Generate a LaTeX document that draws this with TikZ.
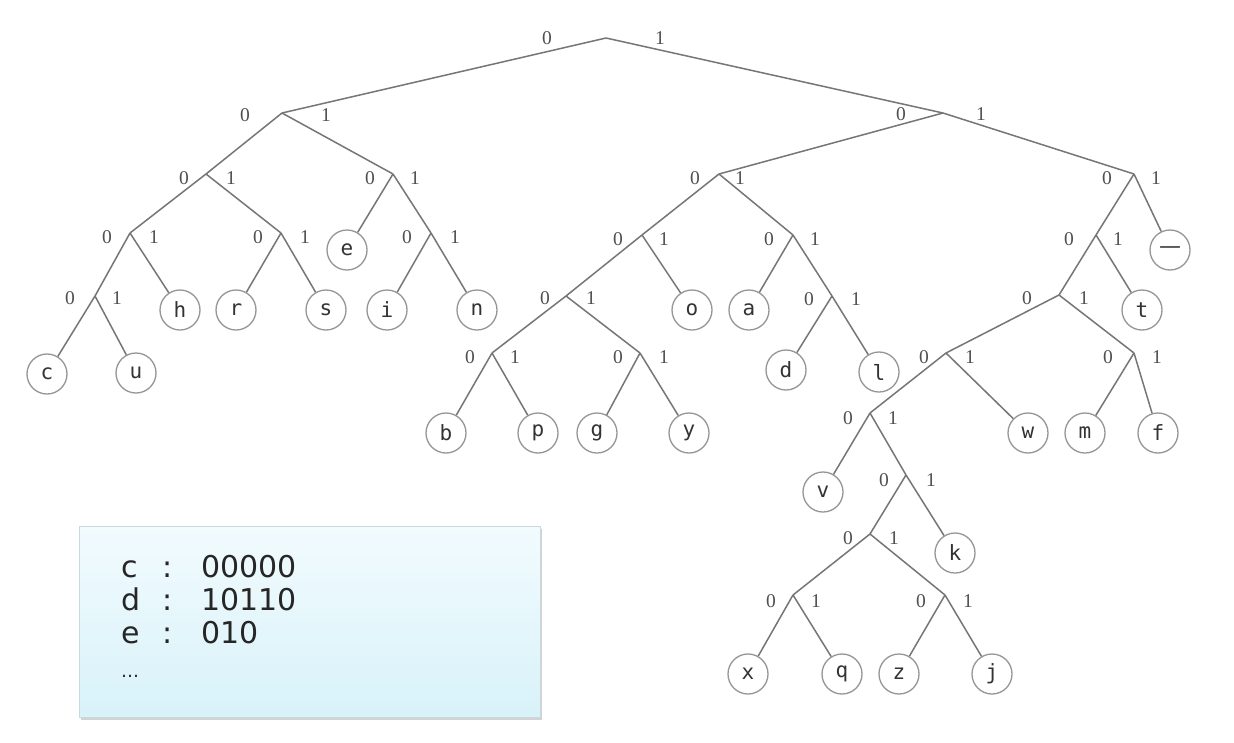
\documentclass[tikz,border=0pt]{standalone}
\usepackage{fontspec}
\usetikzlibrary{shadows}
\newfontfamily\leaffont{DejaVu Sans Mono}
\newfontfamily\bitfont{Liberation Serif}
\newfontfamily\codefont{DejaVu Sans}
\definecolor{edgegray}{HTML}{767676}
\definecolor{ringgray}{HTML}{969696}
\definecolor{inkgray}{HTML}{333333}
\definecolor{bitgray}{HTML}{505050}
\definecolor{boxtop}{HTML}{F2FBFE}
\definecolor{boxbot}{HTML}{D8F2F9}
\definecolor{boxline}{HTML}{C9D9DE}

% one internal node: edge 0 to the left child, edge 1 to the right child
\newcommand\fork[6]{%
  \draw[edge] (#1) -- (#2) node[bit, at start, xshift=-#4pt, yshift=-#6pt] {0};
  \draw[edge] (#1) -- (#3) node[bit, at start, xshift=#5pt, yshift=-#6pt] {1};
}

\begin{document}
\begin{tikzpicture}[x=1pt, y=-1pt,
  leaf/.style={circle, draw=ringgray, line width=1.3pt, fill=white,
    minimum size=40pt, inner sep=0pt, text=inkgray,
    font=\leaffont\fontsize{21}{21}\selectfont},
  edge/.style={draw=edgegray, line width=1.5pt},
  bit/.style={inner sep=0pt, text=bitgray, font=\bitfont\fontsize{19.5}{19.5}\selectfont},
  codebox/.style={draw=boxline, line width=0.8pt, top color=boxtop, bottom color=boxbot,
    minimum width=461pt, minimum height=191pt, inner sep=0pt,
    drop shadow={shadow xshift=1.5pt, shadow yshift=-3pt, opacity=0.35}},
  codetext/.style={anchor=base west, inner sep=0pt, text=black!85,
    font=\codefont\fontsize{30}{30}\selectfont}]

\useasboundingbox (0,0) rectangle (1234,742);
\fill[white] (0,0) rectangle (1234,742);

% ---- internal nodes ----
\coordinate (r)        at (606,38);
\coordinate (n0)       at (282,113);
\coordinate (n1)       at (943,113);
\coordinate (n00)      at (206,174);
\coordinate (n01)      at (393,174);
\coordinate (n000)     at (130,233);
\coordinate (n001)     at (281,233);
\coordinate (n011)     at (431,233);
\coordinate (n0000)    at (95,296);
\coordinate (n10)      at (719,174);
\coordinate (n11)      at (1134,174);
\coordinate (n100)     at (642,235);
\coordinate (n101)     at (793,235);
\coordinate (n1000)    at (566,296);
\coordinate (n1011)    at (832,296);
\coordinate (n10000)   at (492,353);
\coordinate (n10001)   at (640,353);
\coordinate (n110)     at (1096,235);
\coordinate (n1100)    at (1059,295);
\coordinate (n11000)   at (946,353);
\coordinate (n11001)   at (1134,353);
\coordinate (n110000)  at (870,413);
\coordinate (n1100001) at (906,475);
\coordinate (n11000010) at (870,534);
\coordinate (n110000100) at (793,595);
\coordinate (n110000101) at (945,595);

% ---- leaves ----
\node[leaf] (c) at (47,374) {c};
\node[leaf] (u) at (136,373) {u};
\node[leaf] (h) at (180,310) {h};
\node[leaf] (r1) at (236,310) {r};
\node[leaf] (s) at (326,310) {s};
\node[leaf] (e) at (347,250) {e};
\node[leaf] (i) at (387,310) {i};
\node[leaf] (n) at (477,310) {n};
\node[leaf] (o) at (692,310) {o};
\node[leaf] (a) at (749,310) {a};
\node[leaf] (d) at (786,370) {d};
\node[leaf] (l) at (879,372) {l};
\node[leaf] (b) at (446,433) {b};
\node[leaf] (p) at (538,433) {p};
\node[leaf] (g) at (597,433) {g};
\node[leaf] (y1) at (689,433) {y};
\node[leaf] (sp) at (1170,250) {\codefont\fontsize{22}{22}\selectfont —};
\node[leaf] (t) at (1142,310) {t};
\node[leaf] (w) at (1028,433) {w};
\node[leaf] (m) at (1085,433) {m};
\node[leaf] (f) at (1158,433) {f};
\node[leaf] (v) at (823,492) {v};
\node[leaf] (k) at (955,553) {k};
\node[leaf] (x1) at (748,674) {x};
\node[leaf] (q) at (842,674) {q};
\node[leaf] (z) at (899,674) {z};
\node[leaf] (j) at (992,674) {j};

% ---- branches ----
\fork{r}{n0}{n1}{59}{54}{0}
\fork{n0}{n00}{n01}{37}{44}{2}
\fork{n1}{n10}{n11}{42}{38}{1}
\fork{n00}{n000}{n001}{22}{25}{4}
\fork{n01}{e}{n011}{23}{22}{4}
\fork{n000}{n0000}{h}{23}{24}{4}
\fork{n001}{r1}{s}{23}{24}{4}
\fork{n011}{i}{n}{24}{24}{4}
\fork{n0000}{c}{u}{25}{22}{2}
\fork{n10}{n100}{n101}{24}{21}{4}
\fork{n11}{n110}{sp}{27}{22}{4}
\fork{n100}{n1000}{o}{24}{22}{4}
\fork{n101}{a}{n1011}{24}{22}{4}
\fork{n1000}{n10000}{n10001}{21}{25}{2}
\fork{n1011}{d}{l}{23}{24}{3}
\fork{n10000}{b}{p}{22}{23}{4}
\fork{n10001}{g}{y1}{22}{24}{4}
\fork{n110}{n1100}{t}{27}{22}{4}
\fork{n1100}{n11000}{n11001}{32}{25}{3}
\fork{n11000}{n110000}{w}{22}{24}{4}
\fork{n11001}{m}{f}{26}{23}{4}
\fork{n110000}{v}{n1100001}{22}{23}{5}
\fork{n1100001}{n11000010}{k}{22}{25}{5}
\fork{n11000010}{n110000100}{n110000101}{22}{24}{4}
\fork{n110000100}{x1}{q}{22}{23}{6}
\fork{n110000101}{z}{j}{24}{23}{6}

% ---- code table ----
\node[codebox] (codes) at (309.5,621.5) {};
\node[codetext] (cc) at (121,577) {c};
\node[codetext] (cd) at (121,610) {d};
\node[codetext] (ce) at (121,643) {e};
\node[codetext, anchor=base] (kc) at (168,577) {:};
\node[codetext, anchor=base] (kd) at (168,610) {:};
\node[codetext, anchor=base] (ke) at (168,643) {:};
\node[codetext] (vc) at (201,577) {00000};
\node[codetext] (vd) at (201,610) {10110};
\node[codetext] (ve) at (201,643) {010};
\node[codetext, font=\codefont\fontsize{18}{18}\selectfont] (more) at (121,677) {…};
\end{tikzpicture}
\end{document}
